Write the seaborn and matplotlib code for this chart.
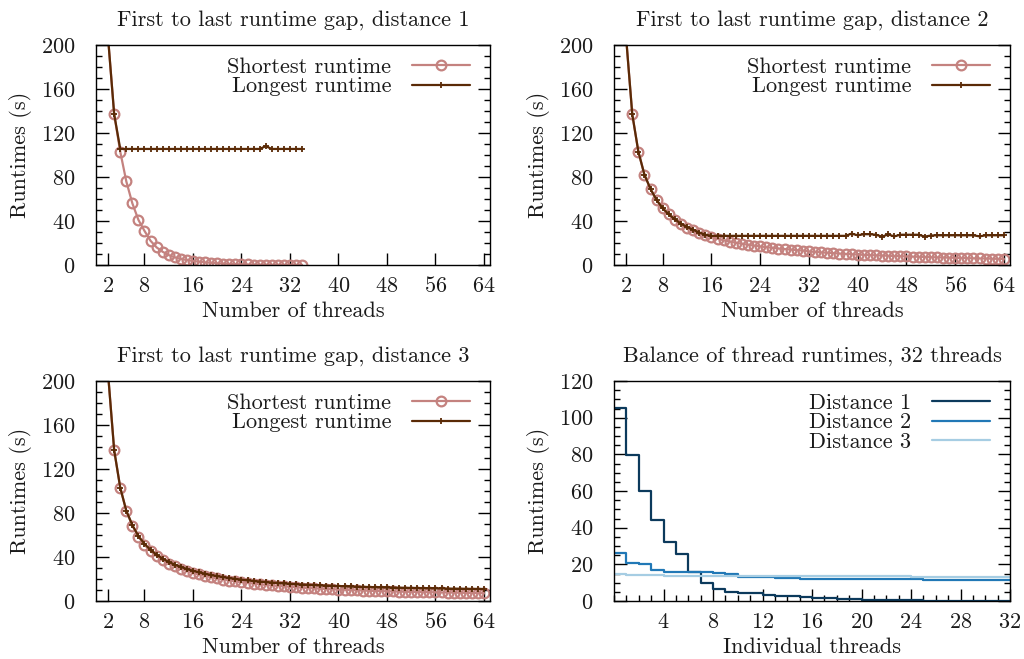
import matplotlib
matplotlib.use("Agg")
import matplotlib.pyplot as plt
import seaborn as sns
import pandas as pd
from matplotlib.ticker import MultipleLocator, FixedLocator

# ---------------- data ----------------
threads_d1 = list(range(2, 35))
threads_d23 = list(range(2, 65))

short_d1 = [206, 137, 103, 76, 56, 41, 31, 22, 16, 12, 9, 7, 5.5, 4.5, 3.6, 3.0,
            2.4, 2.0, 1.6, 1.3, 1.0, 0.8, 0.6, 0.5, 0.4, 0.3, 0.3, 0.2, 0.2, 0.2,
            0.1, 0.1, 0.1]
long_d1 = [206, 137, 105.5, 105.5, 105.5, 105.5, 105.5, 105.5, 105.5, 105.5, 105.5,
           105.5, 105.5, 105.5, 105.5, 105.5, 105.5, 105.5, 105.5, 105.5, 105.5,
           105.5, 105.5, 105.5, 105.5, 105.5, 108, 105.5, 105.5, 105.5, 105.5,
           105.5, 105.5]

short_d2 = [206, 137, 103, 82, 69, 59, 51.5, 46, 41, 37.5, 34, 31.5, 29, 27, 25.3,
            23.8, 22.5, 21.3, 20.2, 19.3, 18.4, 17.6, 16.9, 16.2, 15.6, 15.0, 14.5,
            14.0, 13.5, 13.1, 12.3, 11.9, 11.5, 11.1, 10.8, 10.4, 10.1, 9.8, 9.5,
            9.2, 9.0, 8.8, 8.6, 8.4, 8.2, 8.0, 7.8, 7.6, 7.5, 7.3, 7.1, 7.0, 6.8,
            6.7, 6.5, 6.4, 6.2, 6.1, 6.0, 5.9, 5.7, 5.6, 5.5]
long_d2 = [206, 137, 103, 82, 69, 59, 51.5, 46, 41.5, 37.5, 34.5, 32, 29.5, 27.5,
           26.5, 26.5, 26.5, 26.5, 26.5, 26.5, 26.5, 26.5, 26.5, 26.5, 26.5, 26.5,
           26.5, 26.5, 26.5, 26.5, 26.5, 26.5, 26.5, 26.5, 26.5, 26.5, 26.5, 28.5,
           27, 28, 28, 27.5, 25.8, 27.8, 26, 27.5, 27.5, 27.5, 27.5, 25.8, 26.8,
           27, 27, 27, 27, 27, 27, 27, 26, 27, 27, 27, 27]

short_d3 = [206, 137, 103, 82, 68.5, 58.5, 51, 45.5, 41, 37, 34, 31.5, 29.3, 27.3,
            25.6, 24.1, 22.8, 21.6, 20.5, 19.5, 18.6, 17.8, 17.1, 16.4, 15.8, 15.2,
            14.6, 14.1, 13.7, 13.3, 12.9, 12.5, 12.1, 11.8, 11.5, 11.2, 10.9, 10.6,
            10.4, 10.2, 9.9, 9.7, 9.5, 9.3, 9.1, 9.0, 8.8, 8.7, 8.5, 8.4, 8.3, 8.2,
            8.1, 8.0, 7.9, 7.8, 7.7, 7.6, 7.5, 7.4, 7.3, 7.2, 7.1]
long_d3 = [206, 137, 103, 82, 69, 59, 52, 46.5, 42, 38.5, 35.5, 33, 31, 29, 27.5,
           26, 24.8, 23.6, 22.6, 21.7, 20.9, 20.1, 19.4, 18.8, 18.2, 17.7, 17.2,
           16.8, 16.4, 16.0, 15.6, 15.3, 15.0, 14.7, 14.5, 14.2, 14.0, 13.8, 13.6,
           13.4, 13.2, 13.0, 12.9, 12.7, 12.6, 12.4, 12.3, 12.2, 12.1, 12.0, 11.9,
           11.8, 11.7, 11.6, 11.5, 11.4, 11.3, 11.2, 11.2, 11.1, 11.0, 11.0, 10.9]

balance_threads = list(range(0, 33))
balance_d1 = [105.5, 79.6, 60, 44.4, 32.2, 25.7, 15.8, 10, 6.4, 4.9, 4.6, 4.4, 3.4,
              3.0, 2.5, 2.2, 1.6, 1.4, 1.2, 1.1, 0.8, 0.5, 0.4, 0.3, 0.3, 0.2, 0.2,
              0.1, 0.1, 0.1, 0.1, 0.1, 0.1]
balance_d2 = [26.2, 20.6, 20.4, 16.8, 16.0, 15.9, 15.7, 15.6, 15.2, 14.6, 13.2, 13.0,
              12.9, 12.8, 12.3, 12.1, 12.0, 12.0, 11.9, 11.9, 11.9, 11.8, 11.8, 11.8,
              11.8, 11.7, 11.7, 11.7, 11.7, 11.7, 11.7, 11.7, 11.7]
balance_d3 = [15.0, 14.1, 14.0, 14.0, 13.9, 13.9, 13.9, 13.8, 13.8, 13.8, 13.7, 13.7,
              13.7, 13.6, 13.6, 13.6, 13.5, 13.5, 13.5, 13.5, 13.4, 13.4, 13.4, 13.4,
              13.3, 13.3, 13.3, 13.3, 13.2, 13.2, 13.2, 13.2, 13.2]

titles = ["First to last runtime gap, distance 1",
          "First to last runtime gap, distance 2",
          "First to last runtime gap, distance 3",
          "Balance of thread runtimes, 32 threads"]
thread_ticks = [2, 8, 16, 24, 32, 40, 48, 56, 64]

# ---------------- style ----------------
sns.set_theme(style="ticks")
plt.rcParams.update({
    "font.family": ["cmr10", "DejaVu Serif"],
    "axes.formatter.use_mathtext": True,
    "mathtext.fontset": "cm",
    "font.size": 16,
    "axes.linewidth": 1.0,
    "axes.edgecolor": "black",
    "text.color": "#1a1a1a",
    "axes.labelcolor": "#1a1a1a",
    "xtick.color": "black",
    "ytick.color": "black",
    "xtick.labelcolor": "#1a1a1a",
    "ytick.labelcolor": "#1a1a1a",
})

C_SHORT = "#c4827f"
C_LONG = "#5a2a06"
C_D1 = "#0c3a5c"
C_D2 = "#2178b6"
C_D3 = "#a6cde3"
FS = 16

fig = plt.figure(figsize=(10.24, 6.59), dpi=100)
W, H = 1024, 659
def box(l, t, r, b):
    return [l / W, 1 - b / H, (r - l) / W, (b - t) / H]

ax1 = fig.add_axes(box(96, 45, 490, 265))
ax2 = fig.add_axes(box(614, 45, 1010, 265))
ax3 = fig.add_axes(box(96, 381, 490, 601))
ax4 = fig.add_axes(box(614, 381, 1010, 601))


def runtime_panel(ax, threads, shortest, longest, title):
    df = pd.DataFrame({"threads": threads, "shortest": shortest, "longest": longest})
    sns.lineplot(data=df, x="threads", y="shortest", ax=ax, color=C_SHORT,
                 marker="o", markersize=7, markerfacecolor="none",
                 markeredgecolor=C_SHORT, markeredgewidth=1.6, linewidth=1.6,
                 label="Shortest runtime")
    sns.lineplot(data=df, x="threads", y="longest", ax=ax, color=C_LONG,
                 marker="+", markersize=4, markeredgewidth=1.3,
                 markeredgecolor=C_LONG, linewidth=1.6, label="Longest runtime")
    ax.set_xlim(0, 65)
    ax.set_ylim(0, 200)
    ax.xaxis.set_major_locator(FixedLocator(thread_ticks))
    ax.yaxis.set_major_locator(MultipleLocator(40))
    ax.yaxis.set_minor_locator(MultipleLocator(10))
    ax.set_xlabel("Number of threads", fontsize=FS, labelpad=4)
    ax.set_ylabel("Runtimes (s)", fontsize=FS, labelpad=6)
    ax.set_title(title, fontsize=FS, pad=14)


def style_axes(ax):
    for s in ax.spines.values():
        s.set_visible(True)
        s.set_linewidth(1.0)
    ax.tick_params(axis="y", which="both", direction="in", left=True, right=True,
                   labelsize=FS, pad=15)
    ax.tick_params(axis="y", which="major", length=9, width=1.0)
    ax.tick_params(axis="y", which="minor", length=4.5, width=1.0)
    ax.tick_params(axis="x", which="both", direction="in", bottom=True, top=False,
                   labelsize=FS, pad=8)
    ax.tick_params(axis="x", which="major", length=9, width=1.0)
    ax.tick_params(axis="x", which="minor", length=4.5, width=1.0)
    ax.grid(False)


runtime_panel(ax1, threads_d1, short_d1, long_d1, titles[0])
runtime_panel(ax2, threads_d23, short_d2, long_d2, titles[1])
runtime_panel(ax3, threads_d23, short_d3, long_d3, titles[2])

bal = pd.DataFrame({"thread": balance_threads, "d1": balance_d1,
                    "d2": balance_d2, "d3": balance_d3})
for col, c, lab in [("d1", C_D1, "Distance 1"), ("d2", C_D2, "Distance 2"),
                    ("d3", C_D3, "Distance 3")]:
    sns.lineplot(data=bal, x="thread", y=col, ax=ax4, color=c, linewidth=1.6,
                 drawstyle="steps-post", label=lab)
ax4.set_xlim(0, 32)
ax4.set_ylim(0, 120)
ax4.xaxis.set_major_locator(FixedLocator([4, 8, 12, 16, 20, 24, 28, 32]))
ax4.xaxis.set_minor_locator(MultipleLocator(1))
ax4.yaxis.set_major_locator(MultipleLocator(20))
ax4.yaxis.set_minor_locator(MultipleLocator(5))
ax4.set_xlabel("Individual threads", fontsize=FS, labelpad=4)
ax4.set_ylabel("Runtimes (s)", fontsize=FS, labelpad=6)
ax4.set_title(titles[3], fontsize=FS, pad=14)

for ax in (ax1, ax2, ax3, ax4):
    style_axes(ax)

for ax in (ax1, ax2, ax3, ax4):
    ax.legend(loc="upper right", bbox_to_anchor=(1.0, 1.035), frameon=False,
              markerfirst=False, handlelength=2.6, handletextpad=0.95,
              labelspacing=0.0, borderaxespad=0.5, fontsize=FS)

fig.savefig("out.png", dpi=100)
